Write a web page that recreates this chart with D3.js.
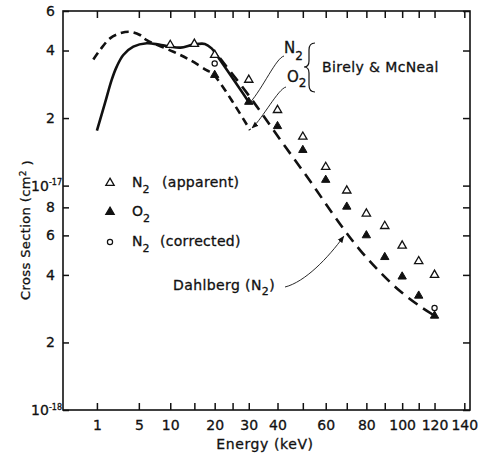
<!DOCTYPE html>
<html>
<head>
<meta charset="utf-8">
<script src="https://cdn.jsdelivr.net/npm/d3@7"></script>
<style>
  body { margin: 0; background: #fff; }
  svg text { font-family: "DejaVu Sans", sans-serif; fill: #111; stroke: #111; stroke-width: 0.3px; }
</style>
</head>
<body>
<svg id="chart" width="479" height="457"></svg>
<script>
// axis ticks
const xTicks = [1, 5, 10, 15, 20, 25, 30, 40, 50, 60, 70, 80, 90, 100, 110, 120, 140];
const xLabelled = [1, 5, 10, 20, 30, 40, 60, 80, 100, 120, 140];
const yTicks = [1e-18, 2e-18, 4e-18, 6e-18, 8e-18, 1e-17, 2e-17, 4e-17, 6e-17];
const yTickLabels = ["10|-18", "2", "4", "6", "8", "10|-17", "2", "4", "6"];

// measured points
const n2AppEnergy = [10, 15, 20, 30, 40, 50, 60, 70, 80, 90, 100, 110, 120];
const n2AppValue = [4.23e-17, 4.28e-17, 3.82e-17, 2.96e-17, 2.17e-17, 1.65e-17, 1.21e-17, 9.5e-18, 7.5e-18, 6.6e-18, 5.4e-18, 4.6e-18, 4.0e-18];
const o2Energy = [20, 30, 40, 50, 60, 70, 80, 90, 100, 110, 120];
const o2Value = [3.11e-17, 2.36e-17, 1.84e-17, 1.44e-17, 1.06e-17, 8.05e-18, 6.0e-18, 4.8e-18, 3.93e-18, 3.23e-18, 2.63e-18];
const n2CorrEnergy = [20, 120];
const n2CorrValue = [3.5e-17, 2.85e-18];

// curves
const bmN2Energy = [1.0, 1.53, 2.06, 2.51, 3.16, 4.3, 6.1, 8, 10, 12, 15, 17.5, 19.2, 20.5, 30];
const bmN2Value = [1.76e-17, 2.33e-17, 2.96e-17, 3.39e-17, 3.82e-17, 4.16e-17, 4.31e-17, 4.25e-17, 4.16e-17, 4.12e-17, 4.26e-17, 4.28e-17, 4.09e-17, 3.82e-17, 2.36e-17];
const bmO2Energy = [0.8, 1.19, 1.92, 2.82, 3.9, 5.15, 6.09, 10.6, 14, 17.9, 19.6, 30.4];
const bmO2Value = [3.65e-17, 4.02e-17, 4.53e-17, 4.77e-17, 4.85e-17, 4.69e-17, 4.45e-17, 3.95e-17, 3.63e-17, 3.27e-17, 3.14e-17, 1.77e-17];
const dahlEnergy = [21.4, 30.4, 40.9, 53.0, 66.7, 76.7, 87.3, 98.7, 110.8, 121.6];
const dahlValue = [3.7e-17, 2.48e-17, 1.61e-17, 1.05e-17, 6.74e-18, 5.16e-18, 4.12e-18, 3.39e-18, 2.9e-18, 2.59e-18];

const svg = d3.select("#chart");
const x = d3.scaleSqrt().domain([0, 144]).range([63, 470]);
const y = d3.scaleLog().domain([1e-18, 6e-17]).range([410, 11]);

const zip = (a, b) => a.map((d, i) => [d, b[i]]);

const defs = svg.append("defs");
defs.append("marker")
    .attr("id", "arrow")
    .attr("viewBox", "0 0 10 10")
    .attr("refX", 9).attr("refY", 5)
    .attr("markerWidth", 7).attr("markerHeight", 7)
    .attr("markerUnits", "userSpaceOnUse")
    .attr("orient", "auto")
    .append("path")
    .attr("d", "M0,1 L10,5 L0,9 z")
    .attr("fill", "#111");

// frame
svg.append("rect")
    .attr("x", x.range()[0]).attr("y", y.range()[1])
    .attr("width", x.range()[1] - x.range()[0])
    .attr("height", y.range()[0] - y.range()[1])
    .attr("fill", "none")
    .attr("stroke", "#111")
    .attr("stroke-width", 1.6);

function styleAxis(g) {
    g.select(".domain").remove();
    g.attr("font-family", null).attr("font-size", null);
    g.selectAll(".tick line").attr("stroke", "#111").attr("stroke-width", 1.5);
    g.selectAll(".tick text").attr("font-size", "14px").attr("fill", "#111");
}

svg.append("g")
    .attr("transform", `translate(0,${y.range()[0]})`)
    .call(d3.axisBottom(x).tickValues(xTicks).tickSize(-7).tickPadding(10)
        .tickFormat(d => xLabelled.includes(d) ? d : ""))
    .call(styleAxis);

svg.append("g")
    .attr("transform", `translate(0,${y.range()[1]})`)
    .call(d3.axisTop(x).tickValues(xTicks).tickSize(-7).tickFormat(""))
    .call(styleAxis);

const gL = svg.append("g")
    .attr("transform", `translate(${x.range()[0]},0)`)
    .call(d3.axisLeft(y).tickValues(yTicks).tickSize(-6).tickPadding(8)
        .tickFormat((d, i) => yTickLabels[i]))
    .call(styleAxis);

gL.selectAll(".tick text").each(function(d, i) {
    const lab = yTickLabels[i];
    if (lab.indexOf("|") < 0) return;
    const t = d3.select(this).text(null).attr("x", -1);
    t.append("tspan").text(lab.split("|")[0]);
    t.append("tspan").attr("dy", "-0.65em").attr("font-size", "8px").text(lab.split("|")[1]);
});

svg.append("g")
    .attr("transform", `translate(${x.range()[1]},0)`)
    .call(d3.axisRight(y).tickValues(yTicks).tickSize(-7).tickFormat(""))
    .call(styleAxis);

// axis titles
svg.append("text")
    .attr("x", 265).attr("y", 449)
    .attr("text-anchor", "middle")
    .attr("font-size", "14px")
    .attr("letter-spacing", "0.6")
    .text("Energy (keV)");

const yt = svg.append("text")
    .attr("transform", "translate(30,230) rotate(-90)")
    .attr("text-anchor", "middle")
    .attr("font-size", "13px")
    .attr("letter-spacing", "0.4");
yt.append("tspan").text("Cross  Section (cm");
yt.append("tspan").attr("dy", "-0.5em").attr("font-size", "9px").text("2");
yt.append("tspan").attr("dy", "0.5em").text(" )");

// curves
const line = d3.line()
    .x(d => x(d[0]))
    .y(d => y(d[1]))
    .curve(d3.curveCatmullRom.alpha(0.5));

svg.append("path")
    .attr("d", line(zip(bmO2Energy, bmO2Value)))
    .attr("fill", "none")
    .attr("stroke", "#111")
    .attr("stroke-width", 2.6)
    .attr("stroke-dasharray", "8,5");

svg.append("path")
    .attr("d", line(zip(dahlEnergy, dahlValue)))
    .attr("fill", "none")
    .attr("stroke", "#111")
    .attr("stroke-width", 2.6)
    .attr("stroke-dasharray", "11,7");

svg.append("path")
    .attr("d", line(zip(bmN2Energy, bmN2Value)))
    .attr("fill", "none")
    .attr("stroke", "#111")
    .attr("stroke-width", 2.6);

// markers
const tri = d3.symbol().type(d3.symbolTriangle).size(30);

svg.append("g").selectAll("path")
    .data(zip(n2AppEnergy, n2AppValue))
    .join("path")
    .attr("transform", d => `translate(${x(d[0])},${y(d[1])})`)
    .attr("d", tri)
    .attr("fill", "#fff")
    .attr("stroke", "#111")
    .attr("stroke-width", 1.3);

svg.append("g").selectAll("path")
    .data(zip(o2Energy, o2Value))
    .join("path")
    .attr("transform", d => `translate(${x(d[0])},${y(d[1])})`)
    .attr("d", tri)
    .attr("fill", "#111")
    .attr("stroke", "#111")
    .attr("stroke-width", 1);

svg.append("g").selectAll("circle")
    .data(zip(n2CorrEnergy, n2CorrValue))
    .join("circle")
    .attr("cx", d => x(d[0]))
    .attr("cy", d => y(d[1]))
    .attr("r", 2.6)
    .attr("fill", "#fff")
    .attr("stroke", "#111")
    .attr("stroke-width", 1.2);

// legend
const legend = [
    { y: 183, kind: "open", main: "N", tail: "(apparent)", tailX: 162 },
    { y: 212, kind: "filled", main: "O", tail: "", tailX: 0 },
    { y: 242, kind: "circle", main: "N", tail: "(corrected)", tailX: 160 }
];
legend.forEach(l => {
    if (l.kind === "circle") {
        svg.append("circle").attr("cx", 110).attr("cy", l.y).attr("r", 2.6)
            .attr("fill", "#fff").attr("stroke", "#111").attr("stroke-width", 1.2);
    } else {
        svg.append("path").attr("transform", `translate(110,${l.y})`).attr("d", tri)
            .attr("fill", l.kind === "open" ? "#fff" : "#111")
            .attr("stroke", "#111").attr("stroke-width", 1.3);
    }
    const t = svg.append("text").attr("x", 132).attr("y", l.y + 4).attr("font-size", "14px");
    t.append("tspan").text(l.main);
    t.append("tspan").attr("dy", 6).attr("font-size", "11px").text("2");
    if (l.tail) {
        svg.append("text").attr("x", l.tailX).attr("y", l.y + 4)
            .attr("font-size", "14px").attr("letter-spacing", "0.3").text(l.tail);
    }
});

// Birely & McNeal labels
const nl = svg.append("text").attr("x", 284).attr("y", 53).attr("font-size", "15px");
nl.append("tspan").text("N");
nl.append("tspan").attr("dy", 7).attr("font-size", "12px").text("2");
const ol = svg.append("text").attr("x", 287).attr("y", 82).attr("font-size", "15px");
ol.append("tspan").text("O");
ol.append("tspan").attr("dy", 5).attr("font-size", "12px").text("2");

svg.append("path")
    .attr("d", "M315,43 Q309,43 309,50 L309,61 Q309,67 304,67 Q309,67 309,73 L309,85 Q309,92 315,92")
    .attr("fill", "none")
    .attr("stroke", "#111")
    .attr("stroke-width", 1.2);

svg.append("text")
    .attr("x", 322).attr("y", 72)
    .attr("font-size", "14px")
    .attr("letter-spacing", "0.4")
    .text("Birely & McNeal");

// Dahlberg label
const dl = svg.append("text").attr("x", 173).attr("y", 290).attr("font-size", "14px").attr("letter-spacing", "0.4");
dl.append("tspan").text("Dahlberg (N");
dl.append("tspan").attr("dy", 5).attr("font-size", "11px").text("2");
dl.append("tspan").attr("dy", -5).text(")");

// leader lines
const n2End = [x(bmN2Energy[bmN2Energy.length - 1]), y(bmN2Value[bmN2Value.length - 1])];
svg.append("path")
    .attr("d", `M284,56 C276,58 263,88 ${n2End[0] + 1},${n2End[1] + 1}`)
    .attr("fill", "none").attr("stroke", "#111").attr("stroke-width", 0.9);

const o2End = [x(bmO2Energy[bmO2Energy.length - 1]), y(bmO2Value[bmO2Value.length - 1])];
svg.append("path")
    .attr("d", `M286,87 C278,89 263,118 ${o2End[0] + 2},${o2End[1] - 2}`)
    .attr("fill", "none").attr("stroke", "#111").attr("stroke-width", 0.9)
    .attr("marker-end", "url(#arrow)");

// Dahlberg arrow points at the dashed curve near 70 keV
const dTarget = [x(69), y(6.0e-18)];
svg.append("path")
    .attr("d", `M285,287 C305,282 328,258 ${dTarget[0] - 1},${dTarget[1] + 1}`)
    .attr("fill", "none").attr("stroke", "#111").attr("stroke-width", 0.9)
    .attr("marker-end", "url(#arrow)");
</script>
</body>
</html>
